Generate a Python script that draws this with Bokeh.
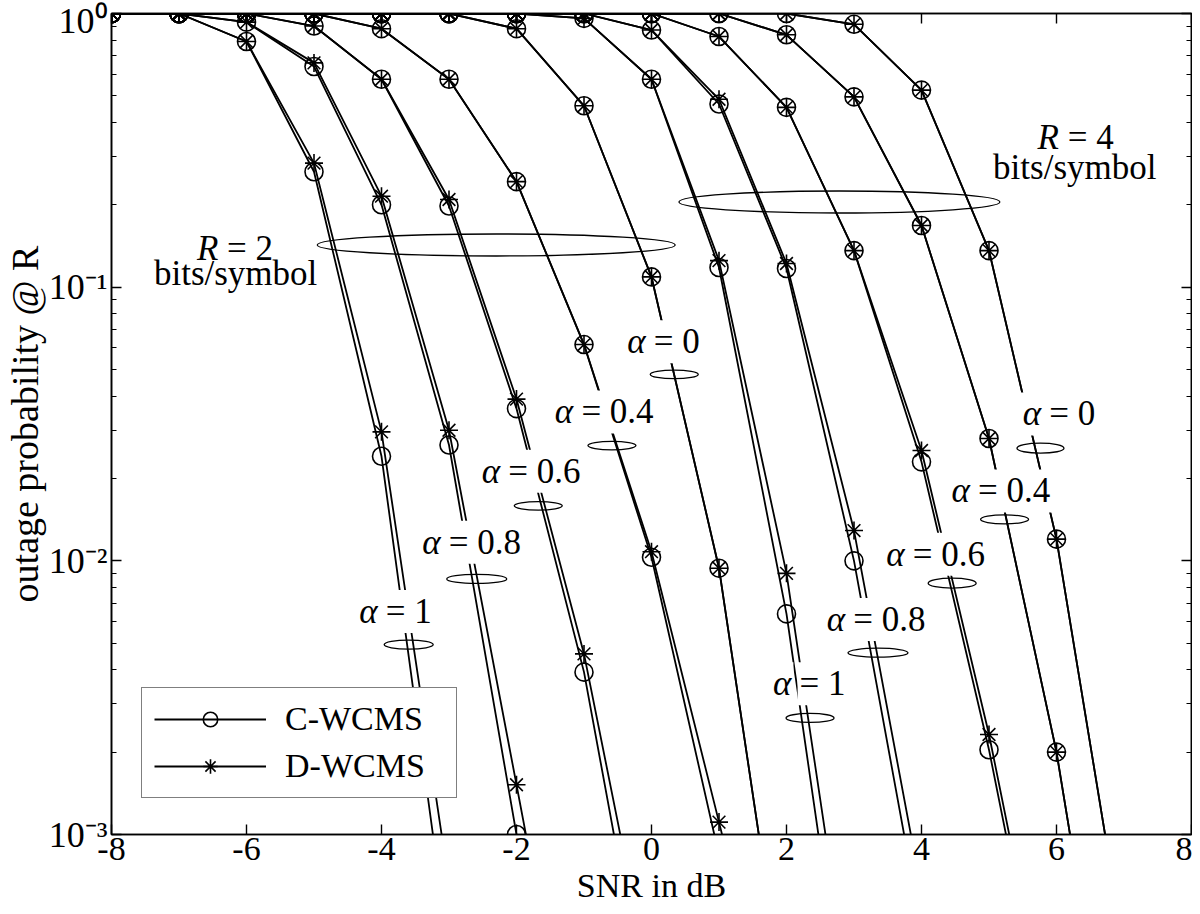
import math
from bokeh.plotting import figure
from bokeh.models import Label, Legend, LegendItem, FixedTicker, LinearAxis, LogAxis, Range1d
from bokeh.embed import file_html
from bokeh.resources import INLINE

# ---------------- data ----------------
x_ticks = [-8, -6, -4, -2, 0, 2, 4, 6, 8]
y_ticks = [0.001, 0.01, 0.1, 1.0]
y_tick_exponents = ["-3", "-2", "-1", "0"]
alpha_labels = ["0", "0.4", "0.6", "0.8", "1"]
legend_labels = ["C-WCMS", "D-WCMS"]
rate_labels = ["2", "4"]

# R = 2 bits/symbol
r2_a1_snr = [-8, -7, -6, -5, -4, -3]
r2_a1_c = [1.0, 1.0, 0.79, 0.264, 0.0241, 0.00037]
r2_a1_d = [1.0, 1.0, 0.79, 0.284, 0.0296, 0.00066]

r2_a08_snr = [-8, -7, -6, -5, -4, -3, -2, -1]
r2_a08_c = [1.0, 1.0, 0.93, 0.64, 0.200, 0.0265, 0.00100, 0.00005]
r2_a08_d = [1.0, 1.0, 0.93, 0.66, 0.215, 0.0300, 0.00152, 0.000076]

r2_a06_snr = [-8, -7, -6, -5, -4, -3, -2, -1, 0]
r2_a06_c = [1.0, 1.0, 1.0, 0.90, 0.575, 0.198, 0.036, 0.00392, 0.00018]
r2_a06_d = [1.0, 1.0, 1.0, 0.90, 0.575, 0.209, 0.039, 0.00457, 0.00027]

r2_a04_snr = [-8, -7, -6, -5, -4, -3, -2, -1, 0, 1, 2]
r2_a04_c = [1.0, 1.0, 1.0, 1.0, 0.88, 0.575, 0.243, 0.0617, 0.0103, 0.00084, 0.00006]
r2_a04_d = [1.0, 1.0, 1.0, 1.0, 0.88, 0.575, 0.243, 0.0617, 0.0108, 0.00111, 0.00011]

r2_a0_snr = [-8, -7, -6, -5, -4, -3, -2, -1, 0, 1, 2]
r2_a0 = [1.0, 1.0, 1.0, 1.0, 1.0, 1.0, 0.88, 0.46, 0.109, 0.0094, 0.00021]

# R = 4 bits/symbol
r4_a1_snr = [-8, -7, -6, -5, -4, -3, -2, -1, 0, 1, 2, 3]
r4_a1_c = [1.0, 1.0, 1.0, 1.0, 1.0, 1.0, 1.0, 0.96, 0.575, 0.118, 0.0064, 0.000126]
r4_a1_d = [1.0, 1.0, 1.0, 1.0, 1.0, 1.0, 1.0, 0.96, 0.575, 0.125, 0.0090, 0.00020]

r4_a08_snr = [-8, -7, -6, -5, -4, -3, -2, -1, 0, 1, 2, 3, 4]
r4_a08_c = [1.0, 1.0, 1.0, 1.0, 1.0, 1.0, 1.0, 1.0, 0.87, 0.467, 0.117, 0.0100, 0.00045]
r4_a08_d = [1.0, 1.0, 1.0, 1.0, 1.0, 1.0, 1.0, 1.0, 0.87, 0.486, 0.122, 0.0129, 0.00062]

r4_a06_snr = [-8, -7, -6, -5, -4, -3, -2, -1, 0, 1, 2, 3, 4, 5, 6]
r4_a06_c = [1.0, 1.0, 1.0, 1.0, 1.0, 1.0, 1.0, 1.0, 1.0, 0.824, 0.454, 0.136, 0.0230, 0.00204, 0.00012]
r4_a06_d = [1.0, 1.0, 1.0, 1.0, 1.0, 1.0, 1.0, 1.0, 1.0, 0.824, 0.454, 0.136, 0.0253, 0.00232, 0.00014]

r4_a04_snr = [-8, -7, -6, -5, -4, -3, -2, -1, 0, 1, 2, 3, 4, 5, 6, 7]
r4_a04 = [1.0, 1.0, 1.0, 1.0, 1.0, 1.0, 1.0, 1.0, 1.0, 1.0, 0.836, 0.496, 0.168, 0.0280, 0.0020, 0.000063]

r4_a0_snr = [-8, -7, -6, -5, -4, -3, -2, -1, 0, 1, 2, 3, 4, 5, 6, 7]
r4_a0 = [1.0, 1.0, 1.0, 1.0, 1.0, 1.0, 1.0, 1.0, 1.0, 1.0, 1.0, 0.913, 0.525, 0.136, 0.0120, 0.00038]

curves = [
    (r2_a1_snr, r2_a1_c, r2_a1_d),
    (r2_a08_snr, r2_a08_c, r2_a08_d),
    (r2_a06_snr, r2_a06_c, r2_a06_d),
    (r2_a04_snr, r2_a04_c, r2_a04_d),
    (r2_a0_snr, r2_a0, r2_a0),
    (r4_a1_snr, r4_a1_c, r4_a1_d),
    (r4_a08_snr, r4_a08_c, r4_a08_d),
    (r4_a06_snr, r4_a06_c, r4_a06_d),
    (r4_a04_snr, r4_a04, r4_a04),
    (r4_a0_snr, r4_a0, r4_a0),
]

# ---------------- styling / layout helpers ----------------
FONT = "Liberation Serif"
X0_PX, PX_PER_DB = 107.0, 68.25      # reference-pixel mapping used for annotation placement
Y0_PX, PX_PER_DEC = 11.7, 277.0
TEXT_SHIFT = 13                      # baseline correction for label rendering

SUP = str.maketrans("0123456789-", "\u2070\u00b9\u00b2\u00b3\u2074\u2075\u2076\u2077\u2078\u2079\u207b")


def px2x(px):
    return -8 + (px - X0_PX) / PX_PER_DB


def py2y(py):
    return 10 ** (-(py - Y0_PX) / PX_PER_DEC)


p = figure(width=1192, height=906, x_range=Range1d(-8, 8), y_range=Range1d(1e-3, 1),
           y_axis_type="log", output_backend="svg", toolbar_location=None,
           min_border_left=107, min_border_right=1, min_border_top=13, min_border_bottom=0)
p.grid.visible = False
p.outline_line_color = "black"
p.outline_line_width = 1.5
p.background_fill_color = "white"
p.border_fill_color = "white"

y_minor = [k * t for t in y_ticks[:-1] for k in range(2, 10)]

# bottom axis
xa = p.xaxis[0]
xa.ticker = FixedTicker(ticks=x_ticks)
xa.major_label_overrides = {t: str(t) for t in x_ticks}
xa.major_label_text_font = FONT
xa.major_label_text_font_size = "34px"
xa.major_label_text_color = "black"
xa.major_label_standoff = 3
xa.major_tick_in = 10
xa.major_tick_out = 0
xa.minor_tick_in = 0
xa.minor_tick_out = 0
xa.axis_line_width = 1.6
xa.major_tick_line_width = 1.4
xa.axis_label = "SNR in dB"
xa.axis_label_text_font = FONT
xa.axis_label_text_font_size = "34px"
xa.axis_label_text_font_style = "normal"
xa.axis_label_text_color = "black"
xa.axis_label_standoff = 4

# left axis
ya = p.yaxis[0]
ya.ticker = FixedTicker(ticks=y_ticks, minor_ticks=y_minor)
ya.major_label_overrides = {t: "10" + e.translate(SUP) for t, e in zip(y_ticks, y_tick_exponents)}
ya.major_label_text_font = FONT
ya.major_label_text_font_size = "36px"
ya.major_label_text_color = "black"
ya.major_label_standoff = 4
ya.major_tick_in = 10
ya.major_tick_out = 0
ya.minor_tick_in = 5
ya.minor_tick_out = 0
ya.axis_line_width = 1.6
ya.major_tick_line_width = 1.4
ya.minor_tick_line_width = 1.2
ya.axis_label = "outage probability @ R"
ya.axis_label_text_font = FONT
ya.axis_label_text_font_size = "38px"
ya.axis_label_text_font_style = "normal"
ya.axis_label_text_color = "black"
ya.axis_label_standoff = 0

top_ax = LinearAxis(ticker=FixedTicker(ticks=x_ticks), major_label_overrides={t: "" for t in x_ticks},
                    major_label_text_font_size="1px", major_label_standoff=0,
                    major_tick_in=10, major_tick_out=0, minor_tick_in=0, minor_tick_out=0,
                    axis_line_width=1.6, major_tick_line_width=1.4)
p.add_layout(top_ax, "above")

right_ax = LogAxis(ticker=FixedTicker(ticks=y_ticks, minor_ticks=y_minor),
                   major_label_overrides={t: "" for t in y_ticks},
                   major_label_text_font_size="1px", major_label_standoff=0,
                   major_tick_in=10, major_tick_out=0, minor_tick_in=5, minor_tick_out=0,
                   axis_line_width=1.6, major_tick_line_width=1.4, minor_tick_line_width=1.2)
p.add_layout(right_ax, "right")

# ---------------- curves ----------------
first = None
for snr, c_vals, d_vals in curves:
    lc = p.line(snr, c_vals, line_color="black", line_width=1.8)
    sc = p.scatter(snr, c_vals, marker="circle", size=18, fill_color=None,
                   line_color="black", line_width=1.6)
    ld = p.line(snr, d_vals, line_color="black", line_width=1.8)
    sd = p.scatter(snr, d_vals, marker="asterisk", size=18,
                   line_color="black", line_width=1.6)
    if first is None:
        first = (lc, sc, ld, sd)

# ---------------- ellipses (reference-pixel centres, screen sizes) ----------------
ellipses_px = [
    (496, 246, 358, 22), (843, 202.5, 321, 22),
    (676, 377, 48, 8.5), (613, 449, 48, 8.5), (538.5, 510, 48, 8.5), (476.3, 584, 60, 9), (407.5, 650.5, 49, 9),
    (1046.3, 451.7, 47, 10), (1010, 523.7, 48, 9), (957, 588.3, 48, 10), (882, 658.7, 60, 9), (813.3, 724.7, 48, 9),
]
ell = p.ellipse(x=[px2x(e[0]) for e in ellipses_px], y=[py2y(e[1]) for e in ellipses_px],
                width=[e[2] for e in ellipses_px], height=[e[3] for e in ellipses_px],
                width_units="screen", height_units="screen",
                fill_color=None, line_color="black", line_width=1.3)
ell.level = "overlay"


def add_label(text, px, py, size, align="left", italic=False, bg=False, pad=2):
    kw = dict(x=px2x(px), y=py2y(py - TEXT_SHIFT), text=text, text_font=FONT,
              text_font_size=f"{size}px", text_align=align, text_baseline="alphabetic",
              text_color="black", text_font_style="italic" if italic else "normal")
    if bg:
        kw.update(background_fill_color="white", padding=pad)
    p.add_layout(Label(**kw))


ANN = 35
EM = ANN
ALPHA_W = 0.52 * EM
SPACE_W = 0.12 * EM


def rest_width(s):
    w = 0.564 + 0.25
    for ch in s:
        w += 0.25 if ch == "." else 0.5
    return w * EM


# alpha labels: (centre x, baseline y) in reference px, for R=2 then R=4
alpha_pos = [
    [(665, 357), (605, 428), (531, 488), (471, 560), (394, 630)],
    [(1065, 430), (1006, 508), (940, 572), (880, 638), (812.5, 703)],
]
for group in alpha_pos:
    for lab, (cx, by) in zip(alpha_labels, group):
        rest = "= " + lab
        total = ALPHA_W + SPACE_W + rest_width(lab)
        left = cx - total / 2
        add_label(rest, left + ALPHA_W + SPACE_W, by, ANN, "left", bg=True)
        add_label("\u03b1", left + ALPHA_W, by, ANN, "right", italic=True, bg=True)

# rate labels
rate_pos = [((231.7, 263), (232.5, 288)), ((1081.7, 150), (1081, 181))]
for rl, ((cx, by), (cx2, by2)) in zip(rate_labels, rate_pos):
    rest = "= " + rl
    r_w = 0.611 * EM
    total = r_w + 0.25 * EM + rest_width(rl)
    left = cx - total / 2
    add_label("R", left + r_w, by, ANN, "right", italic=True)
    add_label(rest, left + r_w + 0.25 * EM, by, ANN, "left")
    add_label("bits/symbol", cx2, by2, ANN, "center")

# ---------------- legend ----------------
lc, sc, ld, sd = first
legend = Legend(items=[LegendItem(label=legend_labels[0], renderers=[lc, sc]),
                       LegendItem(label=legend_labels[1], renderers=[ld, sd])],
                location=(30, 36), orientation="vertical",
                label_text_font=FONT, label_text_font_size="34px", label_text_color="black",
                border_line_color="black", border_line_width=1.5,
                background_fill_color="white", background_fill_alpha=1.0,
                padding=12, spacing=9, margin=0,
                glyph_width=112, glyph_height=36, label_height=36,
                label_standoff=19, label_width=159)
p.add_layout(legend)

open("out.html", "w").write(file_html(p, INLINE))
